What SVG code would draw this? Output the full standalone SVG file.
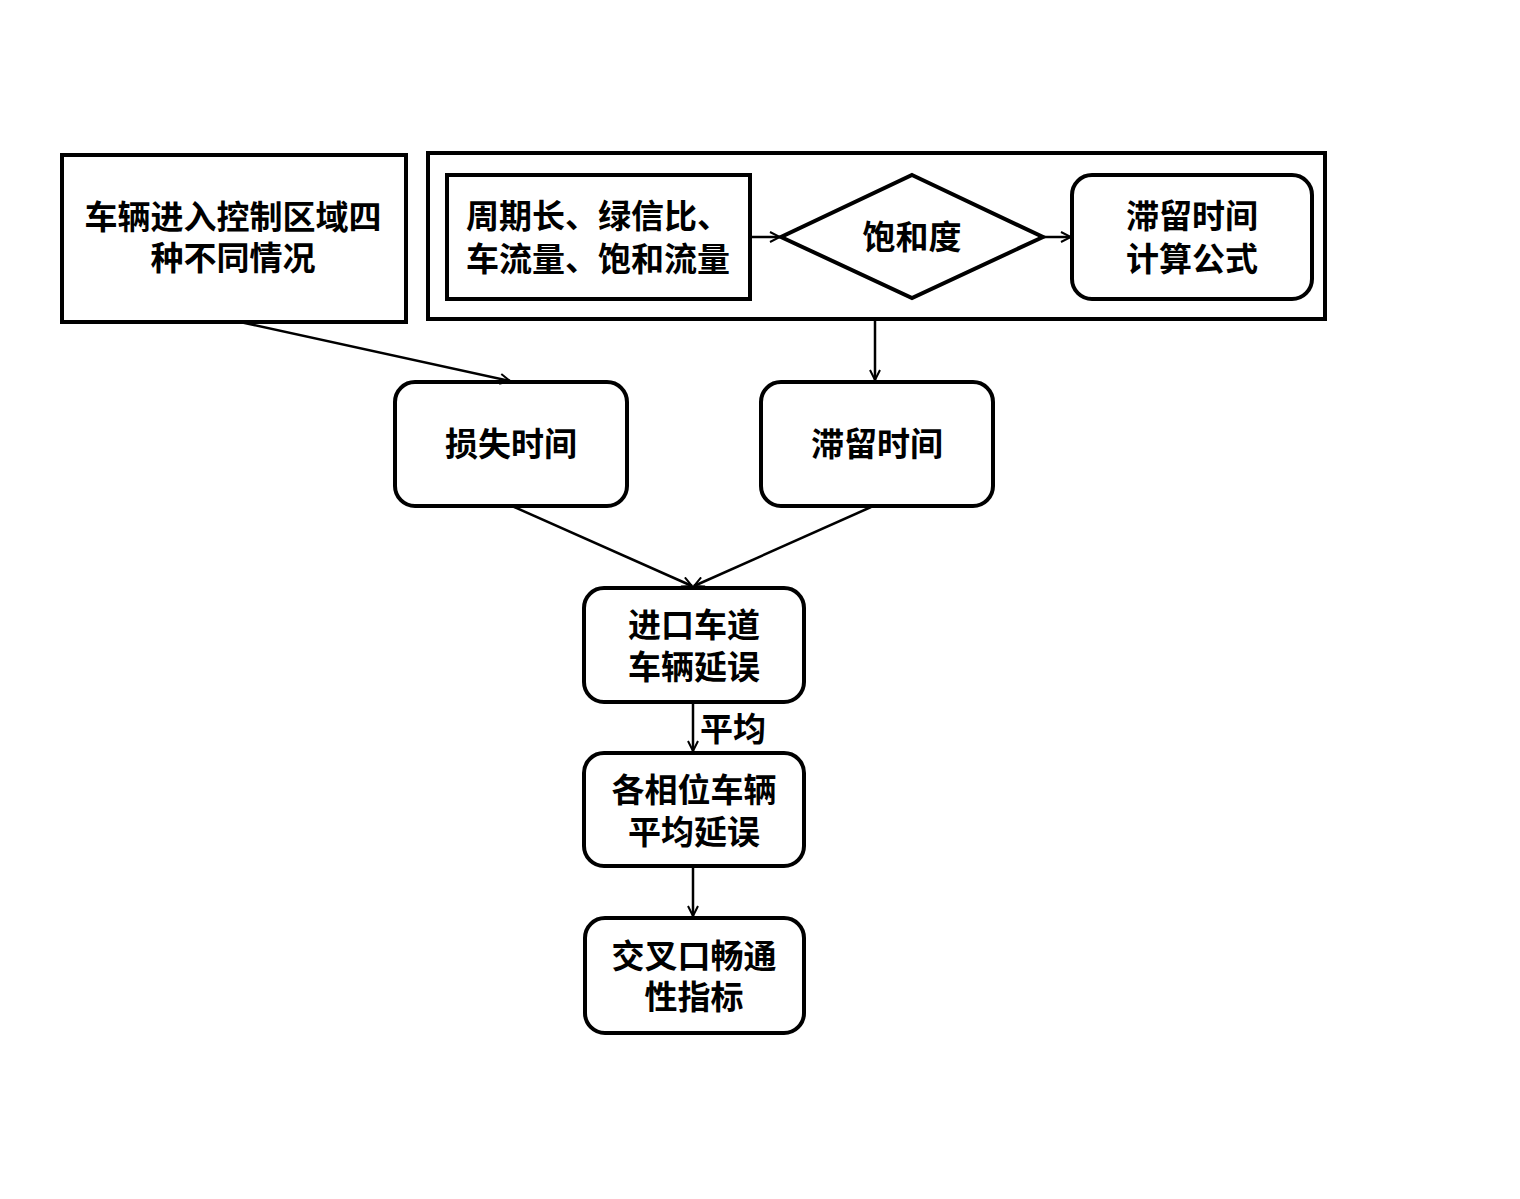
<svg xmlns="http://www.w3.org/2000/svg" width="1520" height="1199" viewBox="0 0 1520 1199">
<defs>
<marker id="arr" viewBox="0 0 12 12" refX="11" refY="6" markerWidth="12" markerHeight="12" markerUnits="userSpaceOnUse" orient="auto">
<polyline points="1,1 11,6 1,11" fill="none" stroke="#000" stroke-width="2"/>
</marker>
<style>
.box{fill:#fff;stroke:#000;stroke-width:4}
.t{font-family:"Noto Sans CJK SC","Noto Sans CJK JP",sans-serif;font-weight:bold;font-size:33px;fill:#000;text-anchor:middle}
.c{stroke:#000;stroke-width:2.5;fill:none;marker-end:url(#arr)}
</style>
</defs>
<rect width="1520" height="1199" fill="#fff"/>
<g id="n-left">
<rect class="box" x="62" y="155" width="344" height="167"/>
<text class="t" x="233" y="229">车辆进入控制区域四</text>
<text class="t" x="233" y="270">种不同情况</text>
</g>
<g id="n-container">
<rect class="box" x="428" y="153" width="897" height="166"/>
</g>
<g id="n-params">
<rect class="box" x="447" y="175" width="303" height="124"/>
<text class="t" x="598" y="228">周期长、绿信比、</text>
<text class="t" x="598" y="271">车流量、饱和流量</text>
</g>
<g id="n-sat">
<polygon class="box" points="912,175 1043,237 912,298 781,237"/>
<text class="t" x="912" y="249">饱和度</text>
</g>
<g id="n-formula">
<rect class="box" x="1072" y="175" width="240" height="124" rx="20"/>
<text class="t" x="1192" y="228">滞留时间</text>
<text class="t" x="1192" y="271">计算公式</text>
</g>
<g id="n-loss">
<rect class="box" x="395" y="382" width="232" height="124" rx="20"/>
<text class="t" x="511" y="456">损失时间</text>
</g>
<g id="n-stay">
<rect class="box" x="761" y="382" width="232" height="124" rx="20"/>
<text class="t" x="877" y="456">滞留时间</text>
</g>
<g id="n-delay">
<rect class="box" x="584" y="588" width="220" height="114" rx="20"/>
<text class="t" x="694" y="637">进口车道</text>
<text class="t" x="694" y="679">车辆延误</text>
</g>
<g id="n-avg">
<rect class="box" x="584" y="753" width="220" height="113" rx="20"/>
<text class="t" x="694" y="802">各相位车辆</text>
<text class="t" x="694" y="844">平均延误</text>
</g>
<g id="n-index">
<rect class="box" x="585" y="918" width="219" height="115" rx="20"/>
<text class="t" x="694" y="968">交叉口畅通</text>
<text class="t" x="694" y="1009">性指标</text>
</g>
<g id="connectors">
<line class="c" x1="750" y1="237" x2="780" y2="237"/>
<line class="c" x1="1043" y1="237" x2="1071" y2="237"/>
<line class="c" x1="240" y1="322" x2="510" y2="381"/>
<line class="c" x1="875" y1="319" x2="875" y2="380"/>
<line class="c" x1="512" y1="506" x2="692" y2="586"/>
<line class="c" x1="871" y1="507" x2="694" y2="586"/>
<line class="c" x1="693" y1="702" x2="693" y2="751"/>
<text class="t" x="733" y="741">平均</text>
<line class="c" x1="693" y1="866" x2="693" y2="916"/>
</g>
</svg>
